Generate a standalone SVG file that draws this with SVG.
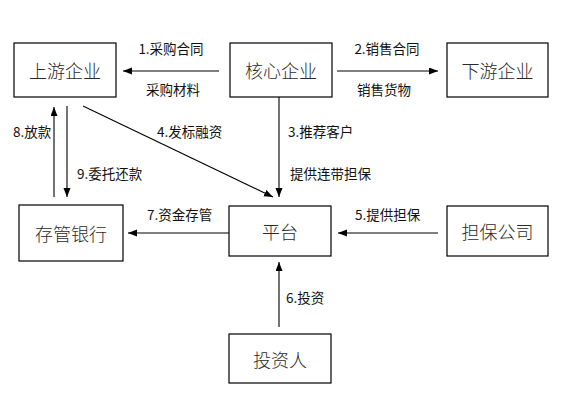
<svg xmlns="http://www.w3.org/2000/svg" width="580" height="409" viewBox="0 0 580 409">
<style>
.box rect{fill:#fff;stroke:#000;stroke-width:1.2}
.box text{font-family:"Noto Sans CJK SC","Noto Sans",sans-serif;font-weight:300;font-size:18px;fill:#2a2a2a;text-anchor:middle;dominant-baseline:central}
.lbl{font-family:"Noto Sans CJK SC","Noto Sans",sans-serif;font-size:13.5px;fill:#111}
.conn line{stroke:#000;stroke-width:1.1;marker-end:url(#ah)}
</style>
<defs>
<marker id="ah" markerUnits="userSpaceOnUse" markerWidth="10" markerHeight="8" refX="9" refY="3.5" orient="auto">
<path d="M0,0 L9,3.5 L0,7 z" fill="#000"/>
</marker>
</defs>
<rect width="580" height="409" fill="#fff"/>
<g class="conn">
<line x1="219" y1="71" x2="123" y2="71"/>
<line x1="337" y1="71" x2="438" y2="71"/>
<line x1="279" y1="97" x2="279" y2="197"/>
<line x1="83" y1="106" x2="273" y2="197"/>
<line x1="230" y1="233" x2="128" y2="233"/>
<line x1="438" y1="233" x2="338" y2="233"/>
<line x1="279" y1="327" x2="279" y2="262"/>
<line x1="54" y1="197" x2="54" y2="107"/>
<line x1="67" y1="106" x2="67" y2="197"/>
</g>
<g id="labels">
<text class="lbl" x="171" y="54" text-anchor="middle">1.采购合同</text>
<text class="lbl" x="173" y="95" text-anchor="middle">采购材料</text>
<text class="lbl" x="387" y="54" text-anchor="middle">2.销售合同</text>
<text class="lbl" x="384" y="95" text-anchor="middle">销售货物</text>
<text class="lbl" x="288" y="137">3.推荐客户</text>
<text class="lbl" x="290" y="179">提供连带担保</text>
<text class="lbl" x="157" y="137">4.发标融资</text>
<text class="lbl" x="355" y="220">5.提供担保</text>
<text class="lbl" x="286" y="303">6.投资</text>
<text class="lbl" x="147" y="220">7.资金存管</text>
<text class="lbl" x="13" y="137">8.放款</text>
<text class="lbl" x="77" y="179">9.委托还款</text>
</g>
<g id="upstream" class="box"><rect x="14" y="43" width="102" height="54"/><text x="65" y="70">上游企业</text></g>
<g id="core" class="box"><rect x="230" y="43" width="102" height="54"/><text x="281" y="70">核心企业</text></g>
<g id="downstream" class="box"><rect x="447" y="43" width="101" height="54"/><text x="497.5" y="70">下游企业</text></g>
<g id="bank" class="box"><rect x="19" y="205" width="104" height="56"/><text x="71" y="233">存管银行</text></g>
<g id="platform" class="box"><rect x="229" y="206" width="102" height="50"/><text x="280" y="231">平台</text></g>
<g id="guarantor" class="box"><rect x="447" y="206" width="101" height="50"/><text x="497.5" y="231">担保公司</text></g>
<g id="investor" class="box"><rect x="229" y="334" width="102" height="49"/><text x="280" y="358.5">投资人</text></g>
</svg>
